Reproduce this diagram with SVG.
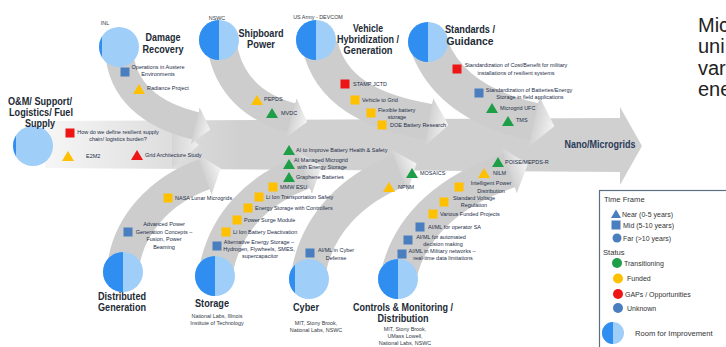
<svg xmlns="http://www.w3.org/2000/svg" width="726" height="347" viewBox="0 0 726 347">
<style>
.t{font-family:"Liberation Sans",Arial,sans-serif;font-weight:bold;font-size:11px;fill:#222a35;text-anchor:middle}
.l{font-family:"Liberation Sans",Arial,sans-serif;font-size:5.5px;fill:#242d48}
.m{text-anchor:middle}
.o{font-family:"Liberation Sans",Arial,sans-serif;font-size:5.4px;fill:#333a44;text-anchor:middle}
.bone{fill:none;stroke:#cdcdcd;marker-end:url(#head)}
.dk{fill:#2f8eef}.lt{fill:#9fcef9}
.y{fill:#ffc000}.g{fill:#1f9e48}.r{fill:#ee1515}.b{fill:#4a7ebf}
.lg{font-family:"Liberation Sans",Arial,sans-serif;font-size:7px;fill:#333}
.lgh{font-family:"Liberation Sans",Arial,sans-serif;font-size:7.6px;fill:#333}
.side{font-family:"Liberation Sans",Arial,sans-serif;font-size:20px;fill:#222}
</style>
<defs>
<linearGradient id="spineGrad" gradientUnits="userSpaceOnUse" x1="45" y1="0" x2="240" y2="0">
<stop offset="0" stop-color="#f6f6f6"/><stop offset="1" stop-color="#d0d0d0"/>
</linearGradient>
<linearGradient id="headGrad" x1="0" y1="0" x2="1" y2="0">
<stop offset="0" stop-color="#d2d2d2"/><stop offset="1" stop-color="#f4f4f4"/>
</linearGradient>
<marker id="head" viewBox="0 0 10 10" refX="0.5" refY="5" markerWidth="0.55" markerHeight="1.35" markerUnits="strokeWidth" orient="auto" preserveAspectRatio="none">
<path d="M0,0 L10,5 L0,10 Z" fill="url(#headGrad)"/>
</marker>
</defs>

<g id="connectors">
<polygon points="45,121 620,118 620,107 642,146 620,185 620,172 45,168" fill="url(#spineGrad)"/>
<polygon points="172,122 199,145 172,168" fill="url(#headGrad)" opacity="0.8"/>
<path class="bone" stroke-width="28" d="M119,50 C121,90 150,115 196,126"/>
<path class="bone" stroke-width="30" d="M222,45 C228,85 255,108 292,118"/>
<path class="bone" stroke-width="36" d="M320,45 C330,90 370,112 430,122"/>
<path class="bone" stroke-width="38" d="M430,48 C445,85 480,110 535,122"/>
<path class="bone" stroke-width="32" d="M123,268 C128,225 160,190 205,174"/>
<path class="bone" stroke-width="34" d="M216,270 C225,225 255,190 305,172"/>
<path class="bone" stroke-width="34" d="M309,270 C318,225 350,190 400,170"/>
<path class="bone" stroke-width="36" d="M400,270 C412,225 450,190 510,170"/>
</g>

<g id="node-damage-recovery">
<circle class="lt" cx="119" cy="47" r="20"/>
<path class="dk" d="M102,36.5 A20,20 0 0 0 102,57.5 Z"/>
<text class="o" x="105" y="25">INL</text>
<text class="t" x="163" y="41" textLength="35" lengthAdjust="spacingAndGlyphs">Damage</text>
<text class="t" x="163" y="53" textLength="41" lengthAdjust="spacingAndGlyphs">Recovery</text>
</g>
<g id="node-om-support">
<circle class="lt" cx="33" cy="146" r="20"/>
<path class="dk" d="M16,135.5 A20,20 0 0 0 16,156.5 Z"/>
<text class="t" x="40" y="105" textLength="64" lengthAdjust="spacingAndGlyphs">O&amp;M/ Support/</text>
<text class="t" x="41" y="116" textLength="64" lengthAdjust="spacingAndGlyphs">Logistics/ Fuel</text>
<text class="t" x="40" y="127" textLength="30" lengthAdjust="spacingAndGlyphs">Supply</text>
</g>
<g id="node-shipboard-power">
<circle class="lt" cx="219" cy="40" r="20"/>
<path class="dk" d="M219,20 A20,20 0 0 0 219,60 Z"/>
<text class="o" x="217" y="20">NSWC</text>
<text class="t" x="261" y="37" textLength="45" lengthAdjust="spacingAndGlyphs">Shipboard</text>
<text class="t" x="261" y="48" textLength="28" lengthAdjust="spacingAndGlyphs">Power</text>
</g>
<g id="node-vehicle">
<circle class="lt" cx="316" cy="40" r="20"/>
<path class="dk" d="M316,20 A20,20 0 0 0 316,60 Z"/>
<text class="o" x="318" y="19">US Army - DEVCOM</text>
<text class="t" x="368" y="32" textLength="30" lengthAdjust="spacingAndGlyphs">Vehicle</text>
<text class="t" x="368" y="43" textLength="62" lengthAdjust="spacingAndGlyphs">Hybridization /</text>
<text class="t" x="368" y="54" textLength="49" lengthAdjust="spacingAndGlyphs">Generation</text>
</g>
<g id="node-standards">
<circle class="lt" cx="428" cy="42" r="20"/>
<path class="dk" d="M428,22 A20,20 0 0 0 428,62 Z"/>
<text class="t" x="470" y="33" textLength="50" lengthAdjust="spacingAndGlyphs">Standards /</text>
<text class="t" x="470" y="45" textLength="47" lengthAdjust="spacingAndGlyphs">Guidance</text>
</g>
<g id="node-distributed">
<circle class="lt" cx="123" cy="272" r="20"/>
<path class="dk" d="M123,252 A20,20 0 0 0 123,292 Z"/>
<text class="t" x="122" y="300" textLength="48" lengthAdjust="spacingAndGlyphs">Distributed</text>
<text class="t" x="122" y="311" textLength="48" lengthAdjust="spacingAndGlyphs">Generation</text>
</g>
<g id="node-storage">
<circle class="lt" cx="215" cy="276" r="20"/>
<path class="dk" d="M215,256 A20,20 0 0 0 215,296 Z"/>
<text class="t" x="212" y="307" textLength="34" lengthAdjust="spacingAndGlyphs">Storage</text>
<text class="o" x="217" y="318">National Labs, Illinois</text>
<text class="o" x="217" y="325">Institute of Technology</text>
</g>
<g id="node-cyber">
<circle class="lt" cx="309" cy="279" r="20"/>
<path class="dk" d="M295,264.7 A20,20 0 0 0 295,293.3 Z"/>
<text class="t" x="306" y="311" textLength="26" lengthAdjust="spacingAndGlyphs">Cyber</text>
<text class="o" x="316" y="325">MIT, Stony Brook,</text>
<text class="o" x="316" y="332">National Labs, NSWC</text>
</g>
<g id="node-controls">
<circle class="lt" cx="398" cy="279" r="20"/>
<path class="dk" d="M398,259 A20,20 0 0 0 398,299 Z"/>
<text class="t" x="403" y="311" style="font-size:10px" textLength="100" lengthAdjust="spacingAndGlyphs">Controls &amp; Monitoring /</text>
<text class="t" x="403" y="322" style="font-size:10px" textLength="51" lengthAdjust="spacingAndGlyphs">Distribution</text>
<text class="o" x="405" y="331">MIT, Stony Brook,</text>
<text class="o" x="405" y="338">UMass Lowell,</text>
<text class="o" x="405" y="345">National Labs, NSWC</text>
</g>
<g id="node-nano-microgrids">
<text class="t" x="600" y="148" style="font-size:10.5px;fill:#2a3a58" textLength="71" lengthAdjust="spacingAndGlyphs">Nano/Microgrids</text>
</g>

<g id="item-operations"><rect class="b" x="120.5" y="67.5" width="9" height="9"/><text class="l m" x="158" y="69">Operations in Austere</text><text class="l m" x="158" y="76">Environments</text></g>
<g id="item-radiance"><polygon class="y" points="139,84 145,94 133,94"/><text class="l" x="147" y="90">Radiance Project</text></g>
<g id="item-supply-chain"><rect class="r" x="65.5" y="128.5" width="9" height="9"/><text class="l m" x="118" y="134">How do we define resilient supply</text><text class="l m" x="118" y="141">chain/ logistics burden?</text></g>
<g id="item-e2m2"><polygon class="y" points="68,151 74,161 62,161"/><text class="l" x="86" y="158">E2M2</text></g>
<g id="item-grid-arch"><polygon class="r" points="137,150 143,160 131,160"/><text class="l" x="145" y="157">Grid Architecture Study</text></g>
<g id="item-pepds"><polygon class="y" points="257,95 263,105 251,105"/><text class="l" x="264" y="101">PEPDS</text></g>
<g id="item-mvdc"><polygon class="g" points="272,108 278,118 266,118"/><text class="l" x="281" y="115">MVDC</text></g>
<g id="item-stamp"><rect class="r" x="340.5" y="79.5" width="9" height="9"/><text class="l" x="353" y="86">STAMP JCTD</text></g>
<g id="item-v2g"><rect class="y" x="350.5" y="95.5" width="9" height="9"/><text class="l" x="362" y="102">Vehicle to Grid</text></g>
<g id="item-flex"><rect class="y" x="366.5" y="108.5" width="9" height="9"/><text class="l" x="378" y="112">Flexible battery</text><text class="l m" x="397" y="119">storage</text></g>
<g id="item-doe"><rect class="y" x="377.5" y="120.5" width="9" height="9"/><text class="l" x="390" y="127">DOE Battery Research</text></g>
<g id="item-std-cost"><rect class="r" x="452.5" y="64.5" width="9" height="9"/><text class="l m" x="516" y="67">Standardization of Cost/Benefit for military</text><text class="l m" x="516" y="75">installations of resilient systems</text></g>
<g id="item-std-batt"><rect class="b" x="474.5" y="88.5" width="9" height="9"/><text class="l m" x="529" y="92">Standardization of Batteries/Energy</text><text class="l m" x="530" y="99">Storage in field applications</text></g>
<g id="item-ufc"><polygon class="g" points="492,103 498,113 486,113"/><text class="l" x="500" y="110">Microgrid UFC</text></g>
<g id="item-tms"><polygon class="g" points="508,116 514,126 502,126"/><text class="l" x="516" y="122">TMS</text></g>

<g id="item-ai-improve"><polygon class="g" points="289,145 295,155 283,155"/><text class="l" x="296" y="152">AI to Improve Battery Health &amp; Safety</text></g>
<g id="item-ai-managed"><polygon class="g" points="289,159 295,169 283,169"/><text class="l m" x="321" y="162">AI Managed Microgrid</text><text class="l m" x="322" y="169">with Energy Storage</text></g>
<g id="item-graphene"><polygon class="g" points="289,172 295,182 283,182"/><text class="l" x="296" y="179">Graphene Batteries</text></g>
<g id="item-mmw"><rect class="y" x="268.5" y="182.5" width="9" height="9"/><text class="l" x="280" y="189">MMW ESU</text></g>
<g id="item-liion-ts"><rect class="y" x="254.5" y="192.5" width="9" height="9"/><text class="l" x="266" y="199">Li Ion Transportation Safety</text></g>
<g id="item-es-ctrl"><rect class="y" x="243.5" y="203.5" width="9" height="9"/><text class="l" x="255" y="210">Energy Storage with Controllers</text></g>
<g id="item-surge"><rect class="y" x="232.5" y="215.5" width="9" height="9"/><text class="l" x="244" y="222">Power Surge Module</text></g>
<g id="item-deact"><rect class="y" x="221.5" y="227.5" width="9" height="9"/><text class="l" x="233" y="234">Li Ion Battery Deactivation</text></g>
<g id="item-alt"><rect class="b" x="212.5" y="241.5" width="9" height="9"/><text class="l m" x="259" y="244">Alternative Energy Storage –</text><text class="l m" x="259" y="251">Hydrogen, Flywheels, SMES,</text><text class="l m" x="260" y="258">supercapacitor</text></g>
<g id="item-nasa"><rect class="y" x="163.5" y="193.5" width="9" height="9"/><text class="l" x="175" y="200">NASA Lunar Microgrids</text></g>
<g id="item-adv"><rect class="b" x="123.5" y="227.5" width="9" height="9"/><text class="l m" x="164" y="226">Advanced Power</text><text class="l m" x="164" y="234">Generation Concepts –</text><text class="l m" x="164" y="241">Fusion, Power</text><text class="l m" x="164" y="249">Beaming</text></g>
<g id="item-cyber-def"><rect class="b" x="305.5" y="248.5" width="9" height="9"/><text class="l m" x="336" y="252">AI/ML in Cyber</text><text class="l m" x="336" y="260">Defense</text></g>
<g id="item-mosaics"><polygon class="g" points="412,168 418,178 406,178"/><text class="l" x="420" y="175">MOSAICS</text></g>
<g id="item-npnm"><polygon class="y" points="389,182 395,192 383,192"/><text class="l" x="398" y="189">NPNM</text></g>
<g id="item-poise"><polygon class="g" points="498,157 504,167 492,167"/><text class="l" x="505" y="164">POISE/MEPDS-R</text></g>
<g id="item-nilm"><polygon class="y" points="484,168 490,178 478,178"/><text class="l" x="493" y="175">NILM</text></g>
<g id="item-ipd"><rect class="y" x="454.5" y="182.5" width="9" height="9"/><text class="l m" x="491" y="185">Intelligent Power</text><text class="l m" x="491" y="193">Distribution</text></g>
<g id="item-svr"><rect class="y" x="439.5" y="197.5" width="9" height="9"/><text class="l m" x="474" y="200">Standard Voltage</text><text class="l m" x="474" y="207">Regulation</text></g>
<g id="item-vfp"><rect class="y" x="428.5" y="209.5" width="9" height="9"/><text class="l" x="440" y="216">Various Funded Projects</text></g>
<g id="item-sa"><rect class="b" x="415.5" y="222.5" width="9" height="9"/><text class="l" x="428" y="229">AI/ML for operator SA</text></g>
<g id="item-auto"><rect class="b" x="403.5" y="235.5" width="9" height="9"/><text class="l m" x="441" y="239">AI/ML for automated</text><text class="l m" x="443" y="246">decision making</text></g>
<g id="item-mil"><rect class="b" x="397.5" y="249.5" width="9" height="9"/><text class="l m" x="442" y="253">AI/ML in Military networks –</text><text class="l m" x="443" y="260">real-time data limitations</text></g>

<g id="side-text">
<text class="side" x="698" y="32">Mic</text>
<text class="side" x="698" y="53">uni</text>
<text class="side" x="698" y="75">var</text>
<text class="side" x="698" y="96">ene</text>
</g>

<g id="legend">
<rect x="599.5" y="190.5" width="140" height="170" fill="#fff" stroke="#5b6e82" stroke-width="1.2"/>
<text class="lgh" x="604" y="202">Time Frame</text>
<polygon class="b" points="616,209.5 621,218 611,218"/><text class="lg" x="622" y="216.5">Near (0-5 years)</text>
<rect class="b" x="611.5" y="220.5" width="9" height="9"/><text class="lg" x="623" y="228">Mid (5-10 years)</text>
<circle class="b" cx="617" cy="238" r="4.5"/><text class="lg" x="623" y="240.5">Far (&gt;10 years)</text>
<text class="lgh" x="603" y="255">Status</text>
<circle class="g" cx="617" cy="263" r="5"/><text class="lg" x="624" y="265.5">Transitioning</text>
<circle class="y" cx="618" cy="278.5" r="5"/><text class="lg" x="627" y="281">Funded</text>
<circle class="r" cx="618" cy="294" r="5"/><text class="lg" x="625" y="296.5">GAPs / Opportunities</text>
<circle class="b" cx="618" cy="308" r="5"/><text class="lg" x="627" y="310.5">Unknown</text>
<circle class="lt" cx="613" cy="333" r="11"/>
<path class="dk" d="M613,322 A11,11 0 0 0 613,344 Z"/>
<text class="lgh" x="635" y="336">Room for Improvement</text>
</g>
</svg>
